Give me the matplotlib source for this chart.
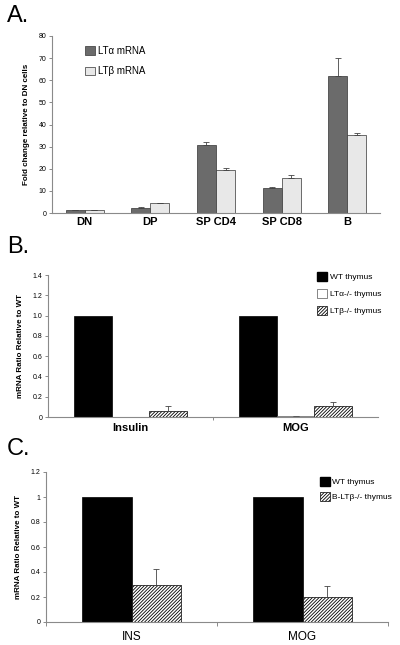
import matplotlib
matplotlib.use("Agg")
import matplotlib.pyplot as plt
import numpy as np
from matplotlib.patches import Patch

plt.rcParams['font.family'] = ['Liberation Sans', 'DejaVu Sans']
plt.rcParams['hatch.linewidth'] = 0.6

# Panel A data
a_categories = ["DN", "DP", "SP CD4", "SP CD8", "B"]
a_lta = [1.3, 2.4, 30.8, 11.3, 62.0]
a_lta_err = [0.2, 0.3, 1.4, 0.6, 8.0]
a_ltb = [1.3, 4.4, 19.4, 15.6, 35.2]
a_ltb_err = [0.2, 0.2, 0.8, 1.6, 0.8]
a_yticks = [0, 10, 20, 30, 40, 50, 60, 70, 80]

# Panel B data
b_categories = ["Insulin", "MOG"]
b_wt = [1.0, 1.0]
b_lta = [0.004, 0.008]
b_lta_err = [0.0, 0.004]
b_ltb = [0.06, 0.11]
b_ltb_err = [0.05, 0.04]
b_yticks = [0, 0.2, 0.4, 0.6, 0.8, 1.0, 1.2, 1.4]
b_yticklabels = ["0", "0.2", "0.4", "0.6", "0.8", "1.0", "1.2", "1.4"]

# Panel C data
c_categories = ["INS", "MOG"]
c_wt = [1.0, 1.0]
c_bltb = [0.30, 0.20]
c_bltb_err = [0.125, 0.09]
c_yticks = [0, 0.2, 0.4, 0.6, 0.8, 1.0, 1.2]
c_yticklabels = ["0", "0.2", "0.4", "0.6", "0.8", "1", "1.2"]

W, H = 400, 645
fig = plt.figure(figsize=(W / 100, H / 100), dpi=100)
HATCH = '/' * 10

def ax_rect(l, r, top, bottom):
    return [l / W, 1 - bottom / H, (r - l) / W, (bottom - top) / H]

def fig_pt(px, py):
    return (px / W, 1 - py / H)

spine_gray = '#8a8a8a'

def style(ax):
    for s in ['top', 'right']:
        ax.spines[s].set_visible(False)
    for s in ['left', 'bottom']:
        ax.spines[s].set_color(spine_gray)
        ax.spines[s].set_linewidth(0.8)
    ax.tick_params(axis='y', length=2.5, width=0.7, color=spine_gray, labelsize=5, pad=1.5)

def legend(ax, handles, anchor_px, fontsize, hl, hh, ls):
    ax.legend(handles=handles, loc='upper left', bbox_to_anchor=fig_pt(*anchor_px),
              bbox_transform=fig.transFigure, frameon=False, fontsize=fontsize,
              borderpad=0, borderaxespad=0, handlelength=hl, handleheight=hh,
              handletextpad=0.3, labelspacing=ls)

# ---------- Panel A ----------
axA = fig.add_axes(ax_rect(52, 380, 36, 213))
style(axA)
x = np.arange(len(a_categories))
w = 0.29
axA.bar(x - w / 2, a_lta, w, color='#6b6b6b', edgecolor='#333333', linewidth=0.5)
axA.bar(x + w / 2, a_ltb, w, color='#e8e8e8', edgecolor='#333333', linewidth=0.5)
axA.errorbar(x - w / 2, a_lta, yerr=[np.zeros(5), a_lta_err], fmt='none',
             ecolor='#444444', elinewidth=0.6, capsize=2.5, capthick=0.6)
axA.errorbar(x + w / 2, a_ltb, yerr=[np.zeros(5), a_ltb_err], fmt='none',
             ecolor='#444444', elinewidth=0.6, capsize=2.5, capthick=0.6)
axA.set_xlim(-0.5, len(a_categories) - 0.5)
axA.set_ylim(0, 80)
axA.set_yticks(a_yticks)
axA.set_xticks(x)
axA.set_xticklabels(a_categories, fontsize=8, fontweight='bold')
axA.tick_params(axis='x', length=0, pad=3)
axA.set_ylabel("Fold change relative to DN cells", fontsize=5.8, fontweight='bold', labelpad=6)
legend(axA, [Patch(facecolor='#6b6b6b', edgecolor='#333333', linewidth=0.5, label='LTα mRNA'),
             Patch(facecolor='#e8e8e8', edgecolor='#333333', linewidth=0.5, label='LTβ mRNA')],
       (85, 46), 7, 1.0, 1.0, 1.05)

# ---------- Panel B ----------
axB = fig.add_axes(ax_rect(48, 378, 275, 417))
style(axB)
x = np.arange(len(b_categories))
w = 0.228
axB.bar(x - w, b_wt, w, color='black', edgecolor='black', linewidth=0.5)
axB.bar(x, b_lta, w, color='white', edgecolor='#555555', linewidth=0.5)
axB.bar(x + w, b_ltb, w, color='white', edgecolor='black', linewidth=0.5, hatch=HATCH)
axB.errorbar(x, b_lta, yerr=[np.zeros(2), b_lta_err], fmt='none',
             ecolor='#555555', elinewidth=0.5, capsize=2, capthick=0.5)
axB.errorbar(x + w, b_ltb, yerr=[np.zeros(2), b_ltb_err], fmt='none',
             ecolor='#444444', elinewidth=0.6, capsize=2.5, capthick=0.6)
axB.set_xlim(-0.5, 1.5)
axB.set_ylim(0, 1.4)
axB.set_yticks(b_yticks)
axB.set_yticklabels(b_yticklabels)
axB.set_xticks([0.5])
axB.set_xticklabels([""])
axB.tick_params(axis='x', length=2, width=0.7, color=spine_gray)
for xi, lab in zip(x, b_categories):
    axB.text(xi, -0.04, lab, transform=axB.get_xaxis_transform(), ha='center', va='top',
             fontsize=8, fontweight='bold')
axB.set_ylabel("mRNA Ratio Relative to WT", fontsize=5.8, fontweight='bold', labelpad=6)
legend(axB, [Patch(facecolor='black', edgecolor='black', label='WT thymus'),
             Patch(facecolor='white', edgecolor='#555555', linewidth=0.5, label='LTα-/- thymus'),
             Patch(facecolor='white', edgecolor='black', linewidth=0.5, hatch=HATCH, label='LTβ-/- thymus')],
       (317, 272), 6, 1.2, 1.2, 0.95)

# ---------- Panel C ----------
axC = fig.add_axes(ax_rect(46, 388, 472, 622))
style(axC)
x = np.arange(len(c_categories))
w = 0.287
axC.bar(x - w / 2, c_wt, w, color='black', edgecolor='black', linewidth=0.5)
axC.bar(x + w / 2, c_bltb, w, color='white', edgecolor='black', linewidth=0.5, hatch=HATCH)
axC.errorbar(x + w / 2, c_bltb, yerr=[np.zeros(2), c_bltb_err], fmt='none',
             ecolor='#444444', elinewidth=0.6, capsize=2.5, capthick=0.6)
axC.set_xlim(-0.5, 1.5)
axC.set_ylim(0, 1.2)
axC.set_yticks(c_yticks)
axC.set_yticklabels(c_yticklabels)
axC.set_xticks([-0.5, 0.5, 1.5])
axC.set_xticklabels(["", "", ""])
axC.tick_params(axis='x', length=3, width=0.7, color=spine_gray)
for xi, lab in zip(x, c_categories):
    axC.text(xi, -0.06, lab, transform=axC.get_xaxis_transform(), ha='center', va='top',
             fontsize=8.5)
axC.set_ylabel("mRNA Ratio Relative to WT", fontsize=5.8, fontweight='bold', labelpad=6)
legend(axC, [Patch(facecolor='black', edgecolor='black', label='WT thymus'),
             Patch(facecolor='white', edgecolor='black', linewidth=0.5, hatch=HATCH, label='B-LTβ-/- thymus')],
       (320, 477), 6, 1.2, 1.2, 0.75)

# Panel letters
fig.text(7 / W, 1 - 5 / H, "A.", fontsize=17, va='top', ha='left')
fig.text(7 / W, 1 - 236 / H, "B.", fontsize=17, va='top', ha='left')
fig.text(7 / W, 1 - 438 / H, "C.", fontsize=17, va='top', ha='left')

fig.savefig("out.png", dpi=100)
